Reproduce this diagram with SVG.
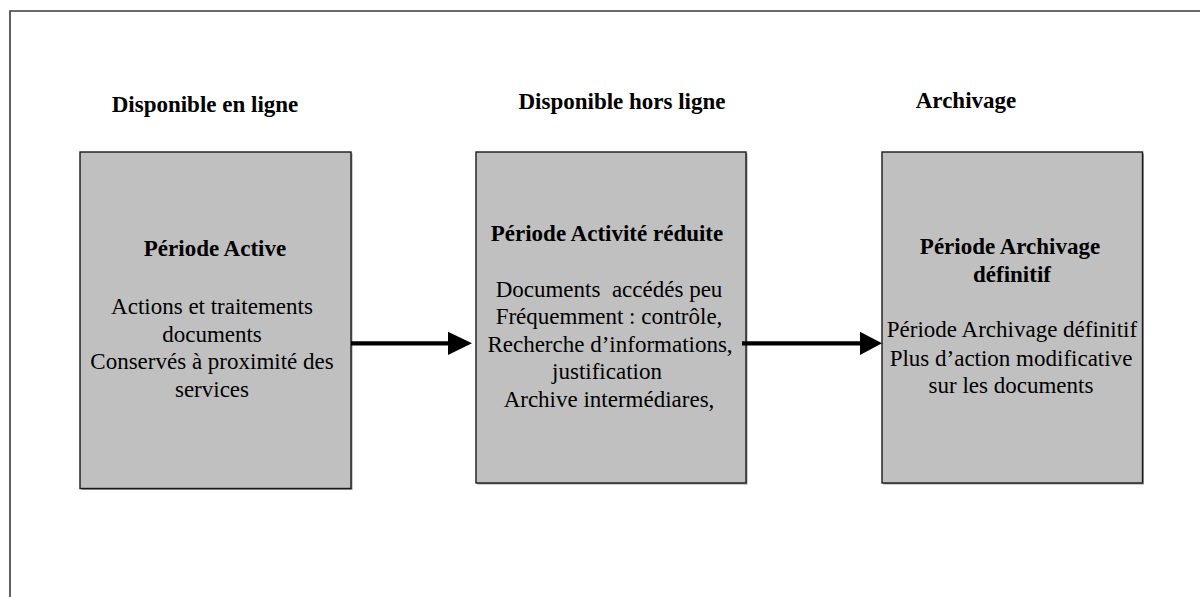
<svg xmlns="http://www.w3.org/2000/svg" width="1200" height="597" viewBox="0 0 1200 597">
  <style>
    text { font-family: "Liberation Serif", "Times New Roman", serif; font-size: 23px; fill: #000; text-anchor: middle; }
    .b { font-weight: bold; }
    .box { fill: #c0c0c0; stroke: #1a1a1a; stroke-width: 1.4; }
    .shadow { fill: #9a9a9a; }
    .frame { stroke: #3a3a3a; stroke-width: 1.6; fill: none; }
    .conn { stroke: #000; stroke-width: 4.3; fill: none; }
    .head { fill: #000; }
  </style>
  <rect width="1200" height="597" fill="#fff"/>
  <g id="frame">
    <path class="frame" d="M10,597 V11 H1200"/>
  </g>
  <g id="headers">
    <text class="b" x="205" y="112">Disponible en ligne</text>
    <text class="b" x="622" y="109">Disponible hors ligne</text>
    <text class="b" x="966" y="108">Archivage</text>
  </g>
  <g id="node-active">
    <rect class="shadow" x="81.5" y="153.5" width="271" height="336.5"/>
    <rect class="box" x="80" y="152" width="271" height="336.5"/>
    <text class="b" x="215" y="256">Période Active</text>
    <text x="212" y="314">Actions et traitements</text>
    <text x="212" y="342">documents</text>
    <text x="212" y="369">Conservés à proximité des</text>
    <text x="212" y="397">services</text>
  </g>
  <g id="node-reduite">
    <rect class="shadow" x="477.5" y="153.5" width="270" height="331"/>
    <rect class="box" x="476" y="152" width="270" height="331"/>
    <text class="b" x="607" y="240.7">Période Activité réduite</text>
    <text x="609" y="296.7" xml:space="preserve">Documents  accédés peu</text>
    <text x="609" y="324">Fréquemment : contrôle,</text>
    <text x="610" y="351.7">Recherche d’informations,</text>
    <text x="607" y="379">justification</text>
    <text x="609" y="406.7">Archive intermédiares,</text>
  </g>
  <g id="node-definitif">
    <rect class="shadow" x="883.5" y="153.5" width="260.5" height="331"/>
    <rect class="box" x="882" y="152" width="260.5" height="331"/>
    <text class="b" x="1010" y="254">Période Archivage</text>
    <text class="b" x="1012" y="281.7">définitif</text>
    <text x="1012" y="337.3">Période Archivage définitif</text>
    <text x="1011" y="365.7">Plus d’action modificative</text>
    <text x="1011" y="393.3">sur les documents</text>
  </g>
  <g id="connectors">
    <line class="conn" x1="351" y1="343.3" x2="450" y2="343.3"/>
    <polygon class="head" points="448,331.7 472,343.3 448,355"/>
    <line class="conn" x1="742" y1="343.3" x2="862" y2="343.3"/>
    <polygon class="head" points="860,331.7 882,343.3 860,355"/>
  </g>
</svg>
